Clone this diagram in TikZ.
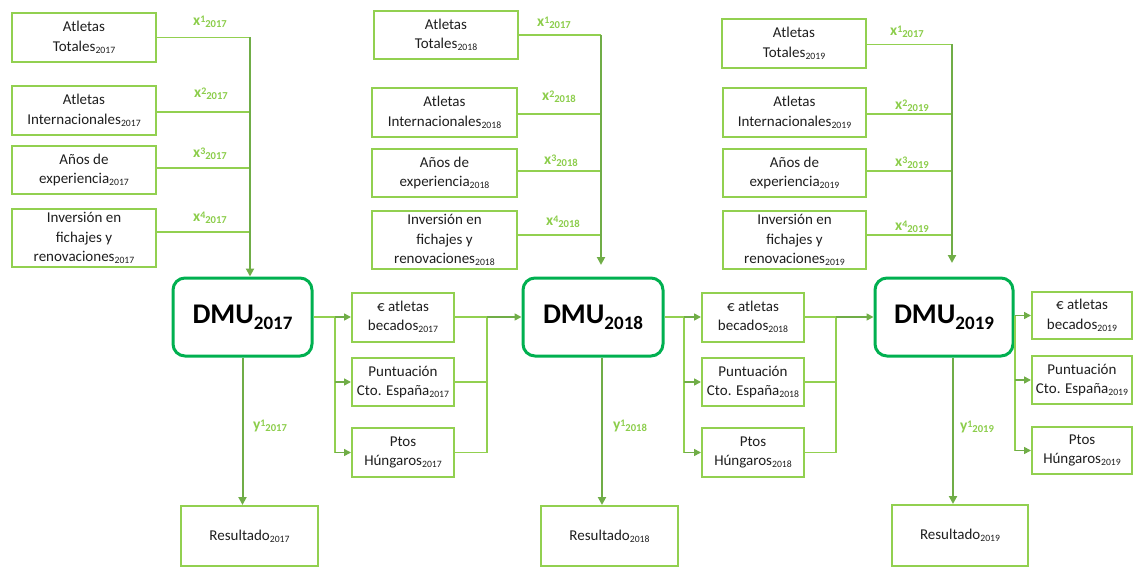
\documentclass[tikz,border=0pt]{standalone}
\usepackage{fontspec}
\setmainfont{Carlito}
\usetikzlibrary{arrows.meta,calc}

\definecolor{boxgreen}{RGB}{146,208,80}
\definecolor{dmugreen}{RGB}{0,176,80}
\definecolor{arrowgreen}{RGB}{112,173,71}
\definecolor{labgreen}{RGB}{140,205,75}
\definecolor{txt}{RGB}{30,30,30}

% year subscript in box texts
\newcommand\yr[1]{\raisebox{-2pt}{\fontsize{9.7}{10}\selectfont #1}}
% super- and subscripts of the variable labels
\newcommand\lsup[1]{\raisebox{2.5pt}{\fontsize{10}{10}\selectfont\bfseries #1}}
\newcommand\lsub[1]{\raisebox{-2.3pt}{\fontsize{10.6}{11}\selectfont\bfseries #1}}
% decision making unit title
\newcommand\dmu[1]{{\fontsize{28.5}{30}\selectfont\bfseries DMU\raisebox{-6pt}{\fontsize{19}{20}\selectfont\bfseries #1}}}

\tikzset{
  box/.style={draw=boxgreen, line width=2pt, text=txt, align=center,
    font=\fontsize{15}{19.5}\selectfont, inner sep=0pt},
  dmubox/.style={draw=dmugreen, line width=3pt, rounded corners=12pt,
    inner sep=0pt, text=black, minimum height=78pt},
  thinline/.style={draw=boxgreen, line width=1.2pt},
  trunk/.style={draw=arrowgreen, line width=2pt, -{Triangle[length=8pt,width=8pt]}},
  arr/.style={draw=arrowgreen, line width=1.6pt, -{Triangle[length=7pt,width=7pt]}},
  lab/.style={text=labgreen, font=\fontsize{15.5}{16}\selectfont\bfseries, inner sep=0pt},
}

\begin{document}
\begin{tikzpicture}[x=1pt,y=-1pt]
\useasboundingbox (0,0) rectangle (1133,567);

% ---------- inputs 2017 ----------
\node[box, minimum width=144pt, minimum height=49pt] (a1) at (84,37.5) {Atletas\\Totales\yr{2017}};
\node[box, minimum width=144pt, minimum height=49pt] (a2) at (84,110.5) {Atletas\\Internacionales\yr{2017}};
\node[box, minimum width=144pt, minimum height=48pt] (a3) at (84,170) {Años de\\experiencia\yr{2017}};
\node[box, minimum width=144pt, minimum height=58pt] (a4) at (84,238) {Inversión en\\fichajes y\\renovaciones\yr{2017}};

% ---------- inputs 2018 ----------
\node[box, minimum width=144pt, minimum height=48pt] (b1) at (446,35) {Atletas\\Totales\yr{2018}};
\node[box, minimum width=145pt, minimum height=49pt] (b2) at (444.5,112.5) {Atletas\\Internacionales\yr{2018}};
\node[box, minimum width=145pt, minimum height=48pt] (b3) at (444.5,173) {Años de\\experiencia\yr{2018}};
\node[box, minimum width=145pt, minimum height=58pt] (b4) at (444.5,240) {Inversión en\\fichajes y\\renovaciones\yr{2018}};

% ---------- inputs 2019 ----------
\node[box, minimum width=144pt, minimum height=49pt] (c1) at (794,43.5) {Atletas\\Totales\yr{2019}};
\node[box, minimum width=143pt, minimum height=49pt] (c2) at (794.5,112.5) {Atletas\\Internacionales\yr{2019}};
\node[box, minimum width=143pt, minimum height=48pt] (c3) at (794.5,173) {Años de\\experiencia\yr{2019}};
\node[box, minimum width=143pt, minimum height=58pt] (c4) at (794.5,240) {Inversión en\\fichajes y\\renovaciones\yr{2019}};

% ---------- DMUs ----------
\node[dmubox, minimum width=139pt] (d1) at (242.5,317) {\dmu{2017}};
\node[dmubox, minimum width=140pt] (d2) at (593,317) {\dmu{2018}};
\node[dmubox, minimum width=138pt] (d3) at (944,317) {\dmu{2019}};

% ---------- outputs ----------
\node[box, minimum width=102pt, minimum height=49pt] (e1) at (403,317) {€ atletas\\becados\yr{2017}};
\node[box, minimum width=102pt, minimum height=48pt] (e2) at (403,382) {Puntuación\\Cto. España\yr{2017}};
\node[box, minimum width=102pt, minimum height=49pt] (e3) at (403,452.5) {Ptos\\Húngaros\yr{2017}};

\node[box, minimum width=102pt, minimum height=49pt] (f1) at (753,317) {€ atletas\\becados\yr{2018}};
\node[box, minimum width=102pt, minimum height=48pt] (f2) at (753,382) {Puntuación\\Cto. España\yr{2018}};
\node[box, minimum width=102pt, minimum height=49pt] (f3) at (753,452.5) {Ptos\\Húngaros\yr{2018}};

\node[box, minimum width=100pt, minimum height=47pt] (g1) at (1082,315.5) {€ atletas\\becados\yr{2019}};
\node[box, minimum width=100pt, minimum height=48pt] (g2) at (1082,380) {Puntuación\\Cto. España\yr{2019}};
\node[box, minimum width=100pt, minimum height=47pt] (g3) at (1082,450.5) {Ptos\\Húngaros\yr{2019}};

% ---------- results ----------
\node[box, minimum width=137pt, minimum height=60pt] (r1) at (249.5,536) {Resultado\yr{2017}};
\node[box, minimum width=137pt, minimum height=60pt] (r2) at (609.5,536) {Resultado\yr{2018}};
\node[box, minimum width=136pt, minimum height=61pt] (r3) at (960,535.5) {Resultado\yr{2019}};

% ---------- input connectors ----------
\coordinate (t1) at (250,37.5);
\draw[thinline] (a1.east) -- (t1);
\draw[thinline] ([yshift=-1.5pt]a2.east) -- ([yshift=-1.5pt]a2.east -| t1);
\draw[thinline] ([yshift=2pt]a3.east) -- ([yshift=2pt]a3.east -| t1);
\draw[thinline] ([yshift=6pt]a4.east) -- ([yshift=6pt]a4.east -| t1);
\draw[trunk] (t1) -- (t1 |- d1.north);

\coordinate (t2) at (601,35);
\draw[thinline] (b1.east) -- (t2);
\draw[thinline] ([yshift=-1.5pt]b2.east) -- ([yshift=-1.5pt]b2.east -| t2);
\draw[thinline] ([yshift=2pt]b3.east) -- ([yshift=2pt]b3.east -| t2);
\draw[thinline] ([yshift=5pt]b4.east) -- ([yshift=5pt]b4.east -| t2);
\draw[trunk] (t2) -- ([yshift=11.5pt]t2 |- d2.north);

\coordinate (t3) at (952,44.5);
\draw[thinline] ([yshift=-1pt]c1.east) -- (t3);
\draw[thinline] ([yshift=-1.5pt]c2.east) -- ([yshift=-1.5pt]c2.east -| t3);
\draw[thinline] ([yshift=2pt]c3.east) -- ([yshift=2pt]c3.east -| t3);
\draw[thinline] ([yshift=5pt]c4.east) -- ([yshift=5pt]c4.east -| t3);
\draw[trunk] (t3) -- ([yshift=13.5pt]t3 |- d3.north);

% ---------- output connectors ----------
\coordinate (s1) at (335,317);
\draw[thinline] (d1.east) -- (s1);
\draw[thinline] (s1) -- (s1 |- e3.west);
\draw[arr] (s1) -- (e1.west);
\draw[arr] (s1 |- e2.west) -- (e2.west);
\draw[arr] (s1 |- e3.west) -- (e3.west);

\coordinate (j1) at (487,317);
\draw[thinline] (e1.east) -- (j1);
\draw[thinline] (e2.east) -- (e2.east -| j1);
\draw[thinline] (e3.east) -- (e3.east -| j1);
\draw[thinline] (j1) -- (j1 |- e3.east);
\draw[arr] (j1) -- (d2.west);

\coordinate (s2) at (684,317);
\draw[thinline] (d2.east) -- (s2);
\draw[thinline] (s2) -- (s2 |- f3.west);
\draw[arr] (s2) -- (f1.west);
\draw[arr] (s2 |- f2.west) -- (f2.west);
\draw[arr] (s2 |- f3.west) -- (f3.west);

\coordinate (j2) at (836,317);
\draw[thinline] (f1.east) -- (j2);
\draw[thinline] (f2.east) -- (f2.east -| j2);
\draw[thinline] (f3.east) -- (f3.east -| j2);
\draw[thinline] (j2) -- (j2 |- f3.east);
\draw[arr] (j2) -- (d3.west);

\coordinate (s3) at (1015,315.5);
\draw[thinline] (s3) -- (s3 |- g3.west);
\draw[arr] (d3.east |- g1.west) -- (g1.west);
\draw[arr] (s3 |- g2.west) -- (g2.west);
\draw[arr] (s3 |- g3.west) -- (g3.west);

% ---------- result connectors ----------
\draw[trunk] (d1.south) -- (d1.south |- r1.north);
\draw[trunk] ([xshift=9pt]d2.south) -- ([xshift=9pt]d2.south |- r2.north);
\draw[trunk] ([xshift=9pt]d3.south) -- ([xshift=9pt]d3.south |- r3.north);

% ---------- variable labels ----------
\node[lab] (lx11) at (210,22) {x\lsup{1}\lsub{2017}};
\node[lab] (lx12) at (211,94) {x\lsup{2}\lsub{2017}};
\node[lab] (lx13) at (210,154) {x\lsup{3}\lsub{2017}};
\node[lab] (lx14) at (210,218) {x\lsup{4}\lsub{2017}};

\node[lab] (lx21) at (554,23) {x\lsup{1}\lsub{2017}};
\node[lab] (lx22) at (559,97) {x\lsup{2}\lsub{2018}};
\node[lab] (lx23) at (561,161) {x\lsup{3}\lsub{2018}};
\node[lab] (lx24) at (563,222) {x\lsup{4}\lsub{2018}};

\node[lab] (lx31) at (907,32) {x\lsup{1}\lsub{2017}};
\node[lab] (lx32) at (912,106) {x\lsup{2}\lsub{2019}};
\node[lab] (lx33) at (912,163) {x\lsup{3}\lsub{2019}};
\node[lab] (lx34) at (912,227) {x\lsup{4}\lsub{2019}};

\node[lab] (ly1) at (270,426) {y\lsup{1}\lsub{2017}};
\node[lab] (ly2) at (630,426) {y\lsup{1}\lsub{2018}};
\node[lab] (ly3) at (977,427) {y\lsup{1}\lsub{2019}};
\end{tikzpicture}
\end{document}
